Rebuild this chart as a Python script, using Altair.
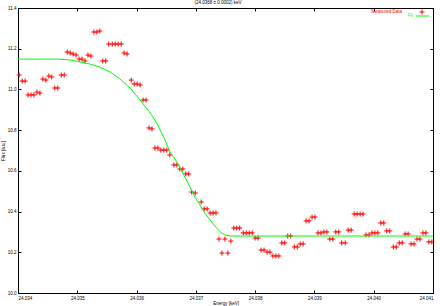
import altair as alt
import pandas as pd

# Measured data (energy in keV, flux)
energy = [24.03402, 24.03407, 24.03412, 24.03417, 24.03422, 24.03427, 24.03432, 24.03437, 24.03442, 24.03447,
          24.03452, 24.03457, 24.03462, 24.03467, 24.03473, 24.03478, 24.03483, 24.03488, 24.03493, 24.03498,
          24.03503, 24.03508, 24.03513, 24.03518, 24.03523, 24.03528, 24.03533, 24.03538, 24.03543, 24.03548,
          24.03553, 24.03559, 24.03564, 24.03569, 24.03574, 24.03579, 24.03584, 24.03591, 24.03596, 24.03601,
          24.03606, 24.03611, 24.03616, 24.03621, 24.03626, 24.03631, 24.03636, 24.03641, 24.03646, 24.03651,
          24.03656, 24.03663, 24.03668, 24.03673, 24.03678, 24.03683, 24.03688, 24.03693, 24.03699, 24.03709,
          24.03714, 24.03719, 24.03724, 24.03729, 24.03734, 24.03739, 24.03744, 24.03749, 24.03754, 24.03759,
          24.03764, 24.03769, 24.03774, 24.03780, 24.03785, 24.03790, 24.03795, 24.03800, 24.03805, 24.03810,
          24.03815, 24.03820, 24.03825, 24.03830, 24.03835, 24.03840, 24.03845, 24.03850, 24.03855, 24.03860,
          24.03866, 24.03871, 24.03876, 24.03881, 24.03886, 24.03891, 24.03896, 24.03901, 24.03906, 24.03911,
          24.03916, 24.03921, 24.03926, 24.03931, 24.03936, 24.03941, 24.03946, 24.03952, 24.03957, 24.03962,
          24.03967, 24.03972, 24.03977, 24.03982, 24.03987, 24.03992, 24.03997, 24.04002, 24.04007, 24.04012,
          24.04017, 24.04022, 24.04027, 24.04033, 24.04038, 24.04043, 24.04048, 24.04053, 24.04058, 24.04063,
          24.04068, 24.04073, 24.04078, 24.04083, 24.04088, 24.04093, 24.04098]
flux = [11.071, 11.041, 11.041, 10.973, 10.973, 10.973, 10.987, 10.982, 11.051, 11.046,
        11.066, 11.061, 11.007, 11.007, 11.071, 11.071, 11.184, 11.179, 11.174, 11.169,
        11.149, 11.149, 11.140, 11.169, 11.164, 11.282, 11.282, 11.287, 11.140, 11.140,
        11.223, 11.223, 11.223, 11.223, 11.223, 11.179, 11.174, 11.046, 11.027, 11.027,
        11.022, 10.948, 10.948, 10.811, 10.806, 10.712, 10.712, 10.702, 10.702, 10.702,
        10.678, 10.629, 10.629, 10.609, 10.609, 10.585, 10.585, 10.496, 10.491, 10.447,
        10.413, 10.413, 10.393, 10.393, 10.393, 10.265, 10.196, 10.265, 10.196, 10.255,
        10.319, 10.319, 10.319, 10.295, 10.295, 10.295, 10.295, 10.270, 10.270, 10.211,
        10.211, 10.201, 10.201, 10.182, 10.182, 10.182, 10.246, 10.246, 10.280, 10.280,
        10.226, 10.226, 10.241, 10.241, 10.354, 10.354, 10.373, 10.373, 10.295, 10.295,
        10.300, 10.300, 10.265, 10.265, 10.300, 10.300, 10.246, 10.246, 10.309, 10.309,
        10.388, 10.388, 10.388, 10.388, 10.285, 10.285, 10.295, 10.295, 10.295, 10.344,
        10.344, 10.305, 10.305, 10.226, 10.226, 10.246, 10.246, 10.290, 10.290, 10.241,
        10.241, 10.265, 10.265, 10.295, 10.295, 10.251, 10.251]

# Fit curve
fit_energy = [24.03400, 24.03466, 24.03488, 24.03505, 24.03521, 24.03538, 24.03555, 24.03572, 24.03589,
              24.03606, 24.03623, 24.03634, 24.03648, 24.03656, 24.03668, 24.03678, 24.03690, 24.03699,
              24.03707, 24.03715, 24.03724, 24.03732, 24.03741, 24.03749, 24.03758, 24.04100]
fit_flux = [11.149, 11.149, 11.145, 11.135, 11.125, 11.110, 11.086, 11.051, 11.007,
            10.948, 10.884, 10.835, 10.752, 10.693, 10.644, 10.589, 10.521, 10.467,
            10.432, 10.393, 10.359, 10.329, 10.300, 10.285, 10.280, 10.280]

x_ticks = [24.034, 24.035, 24.036, 24.037, 24.038, 24.039, 24.040, 24.041]
y_ticks = [10.0, 10.2, 10.4, 10.6, 10.8, 11.0, 11.2, 11.4]

title_text = "(24.0368 ± 0.0002) keV"
x_title = "Energy [keV]"
y_title = "Flux [a.u.]"
legend_labels = ["Measured Data", "Fit"]

FONT = "Liberation Sans"
FS = 4.5

pts = pd.DataFrame({"energy": energy, "flux": flux})
fit = pd.DataFrame({"energy": fit_energy, "flux": fit_flux})

xs = alt.Scale(domain=[x_ticks[0], x_ticks[-1]], nice=False, zero=False)
ys = alt.Scale(domain=[y_ticks[0], y_ticks[-1]], nice=False, zero=False)

common_axis = dict(grid=False, domain=False, tickSize=3, offset=-3, tickColor="black",
                   tickWidth=1, labelFont=FONT, labelFontSize=FS, labelColor="black",
                   titleFont=FONT, titleFontSize=FS, titleColor="black", titleFontWeight="normal")

points = alt.Chart(pts).mark_point(
    shape="M-1,0L1,0M0,-1L0,1", size=25, color="#ff0000", strokeWidth=1, filled=False, opacity=1
).encode(
    x=alt.X("energy:Q", scale=xs,
            axis=alt.Axis(values=x_ticks, format=".3f", orient="bottom", title=x_title,
                          labelPadding=2, titlePadding=1, **common_axis)),
    y=alt.Y("flux:Q", scale=ys,
            axis=alt.Axis(values=y_ticks, format=".1f", orient="left", title=y_title,
                          labelPadding=2, titlePadding=2, **common_axis)),
)

fitline = alt.Chart(fit).mark_line(color="#00ff00", strokeWidth=1).encode(
    x=alt.X("energy:Q", scale=xs,
            axis=alt.Axis(values=x_ticks, orient="top", labels=False, title=None, **common_axis)),
    y=alt.Y("flux:Q", scale=ys,
            axis=alt.Axis(values=y_ticks, orient="right", labels=False, title=None, **common_axis)),
)

leg = pd.DataFrame({"label": legend_labels})
leg_text1 = alt.Chart(leg).transform_filter(alt.datum.label == legend_labels[0]).mark_text(
    align="right", baseline="middle", font=FONT, fontSize=FS, color="#ff0000"
).encode(text="label:N", x=alt.value(384), y=alt.value(4))
leg_sym1 = alt.Chart(leg).transform_filter(alt.datum.label == legend_labels[0]).mark_point(
    shape="M-1,0L1,0M0,-1L0,1", size=25, color="#ff0000", strokeWidth=1, filled=False, opacity=1
).encode(x=alt.value(404), y=alt.value(4))
leg_text2 = alt.Chart(leg).transform_filter(alt.datum.label == legend_labels[1]).mark_text(
    align="right", baseline="middle", font=FONT, fontSize=FS, color="#00ff00"
).encode(text="label:N", x=alt.value(395), y=alt.value(8))
leg_line2 = alt.Chart(leg).transform_filter(alt.datum.label == legend_labels[1]).mark_rule(
    color="#00ff00", strokeWidth=1
).encode(x=alt.value(398), x2=alt.value(411), y=alt.value(8))

title = alt.Chart(pd.DataFrame({"t": [title_text]})).mark_text(
    align="center", baseline="middle", font=FONT, fontSize=FS, color="black"
).encode(text="t:N", x=alt.value(200), y=alt.value(-5))

chart = alt.layer(points, fitline, leg_text1, leg_sym1, leg_text2, leg_line2, title).resolve_axis(
    x="independent", y="independent"
).properties(
    width=415, height=285,
    padding={"left": 18, "top": 8, "right": 7, "bottom": 13},
    autosize="none",
    background="white",
).configure_view(stroke="black", strokeWidth=1)

chart.save("out.html", embed_options={"renderer": "svg", "actions": False})
